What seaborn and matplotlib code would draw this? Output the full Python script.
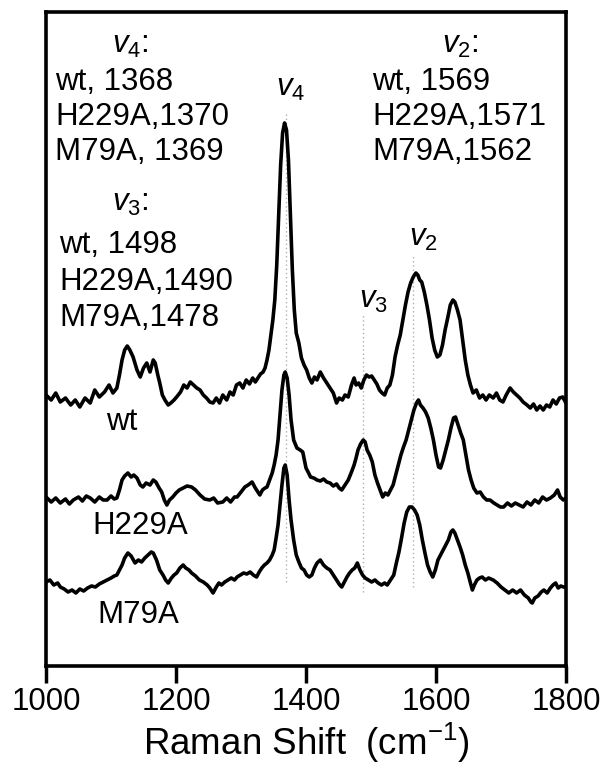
import matplotlib
matplotlib.use("Agg")
import matplotlib.pyplot as plt
import seaborn as sns
import pandas as pd

# ---------------- data ----------------
wt_x = [1000,1008,1015,1022,1030,1038,1045,1052,1060,1068,1075,1082,1090,1097,1103,1109,1113,1117,1121,1125,
        1129,1134,1140,1145,1150,1155,1160,1165,1168,1172,1175,1179,1183,1188,1192,1197,1201,1207,1212,1217,
        1222,1227,1232,1237,1242,1247,1252,1257,1262,1267,1272,1278,1283,1288,1293,1298,1303,1308,1313,1318,
        1322,1326,1330,1334,1337,1340,1343,1346,1349,1352,1355,1358,1361,1364,1367,1370,1373,1376,1379,1382,
        1385,1389,1393,1397,1401,1405,1409,1413,1417,1422,1427,1432,1437,1442,1447,1451,1456,1460,1465,1470,
        1474,1477,1481,1485,1489,1493,1497,1501,1505,1509,1513,1517,1521,1525,1529,1533,1537,1541,1545,1549,
        1553,1557,1561,1565,1569,1572,1575,1578,1582,1586,1590,1594,1598,1602,1606,1610,1614,1618,1622,1626,
        1629,1633,1637,1641,1645,1649,1653,1657,1662,1667,1672,1677,1682,1688,1693,1698,1703,1708,1714,1719,
        1724,1729,1734,1740,1745,1750,1755,1760,1765,1770,1775,1780,1785,1790,1795,1800]
wt_y = [271,266,273,264,268,261,266,259,268,263,276,269,274,281,273,278,291,306,316,320,
        316,309,296,289,298,303,294,306,303,291,283,271,266,261,263,266,269,274,281,278,
        284,281,278,276,271,268,264,263,268,263,271,266,274,271,281,283,278,286,282,288,
        284,288,292,294,298,306,316,331,346,366,401,451,501,533,543,536,506,451,396,356,
        333,323,308,301,296,288,283,289,286,294,288,283,278,273,263,268,266,271,269,281,
        288,281,283,278,286,291,289,290,286,282,276,273,271,278,281,291,309,321,331,346,
        361,374,383,389,393,391,386,384,374,361,346,328,316,309,311,321,336,348,361,366,
        364,356,346,326,306,291,281,273,276,268,271,266,271,268,273,266,264,271,278,274,
        271,268,264,261,258,262,256,260,256,261,259,266,262,268,269,263]

h229a_x = [1000,1008,1015,1022,1030,1036,1042,1050,1056,1062,1068,1075,1082,1088,1094,1100,1105,1109,1113,1117,
           1121,1126,1131,1135,1140,1145,1149,1154,1160,1165,1169,1174,1178,1182,1186,1190,1195,1200,1205,1211,
           1217,1224,1230,1237,1244,1252,1258,1264,1272,1278,1284,1290,1294,1300,1306,1311,1317,1322,1326,1329,
           1333,1337,1340,1344,1348,1351,1354,1357,1360,1363,1366,1368,1371,1374,1377,1381,1386,1391,1395,1400,
           1404,1407,1412,1417,1422,1427,1432,1437,1442,1447,1451,1455,1460,1465,1470,1474,1477,1480,1484,1488,
           1491,1494,1498,1502,1506,1510,1514,1518,1522,1526,1530,1534,1538,1542,1546,1550,1554,1558,1562,1566,
           1570,1573,1576,1580,1584,1588,1592,1596,1600,1604,1607,1611,1615,1619,1623,1627,1630,1634,1638,1642,
           1646,1650,1654,1658,1663,1668,1673,1678,1683,1689,1694,1699,1704,1710,1716,1722,1728,1734,1740,1746,
           1752,1758,1764,1770,1776,1782,1787,1791,1796,1800]
h229a_y = [169,164,168,163,167,162,166,169,165,170,168,164,169,166,166,170,167,168,176,186,
           190,193,189,191,188,181,179,183,181,186,184,178,174,166,161,166,169,173,176,178,
           180,179,176,171,167,166,168,163,164,168,164,169,169,174,179,181,184,178,174,171,
           176,178,179,186,193,201,211,226,251,276,291,294,288,271,246,226,218,216,214,198,
           193,189,188,186,185,187,184,183,180,182,178,176,181,186,194,201,208,216,222,226,
           224,216,211,204,191,183,176,169,173,171,176,181,191,201,211,219,226,236,246,256,
           263,266,261,258,254,248,238,226,211,199,198,206,216,226,238,248,249,241,233,226,
           211,196,186,178,173,174,169,166,166,163,161,159,159,163,160,163,161,159,164,161,
           166,163,169,166,168,171,176,169,166,168]

m79a_x = [1000,1006,1012,1018,1022,1028,1034,1040,1046,1052,1058,1064,1070,1076,1082,1088,1094,1100,1105,1109,
          1113,1117,1121,1126,1131,1137,1142,1147,1152,1157,1162,1165,1170,1175,1180,1184,1188,1193,1197,1201,
          1206,1211,1215,1220,1224,1230,1236,1242,1248,1252,1257,1262,1266,1270,1275,1280,1285,1290,1294,1299,
          1304,1309,1314,1319,1324,1328,1332,1336,1340,1344,1348,1351,1354,1357,1360,1363,1366,1368,1371,1374,
          1377,1381,1385,1389,1393,1397,1401,1405,1409,1413,1417,1422,1427,1432,1437,1442,1447,1452,1455,1459,
          1463,1467,1471,1475,1479,1483,1487,1491,1496,1501,1506,1511,1516,1521,1525,1530,1535,1539,1543,1547,
          1551,1555,1559,1563,1567,1571,1575,1579,1583,1587,1591,1595,1599,1603,1607,1611,1615,1619,1623,1626,
          1629,1633,1637,1641,1645,1649,1653,1656,1659,1663,1667,1671,1676,1681,1688,1694,1700,1706,1712,1718,
          1724,1730,1736,1742,1746,1748,1752,1757,1762,1766,1771,1776,1780,1784,1788,1792,1796,1800]
m79a_y = [84,86,81,83,79,77,74,76,73,77,75,78,80,79,82,84,86,88,90,91,
          96,101,108,113,110,103,106,104,108,111,114,113,106,96,91,86,83,88,91,93,
          98,101,98,96,93,90,86,84,81,78,73,79,83,81,84,86,88,86,89,91,
          93,92,94,91,89,94,98,101,103,106,111,116,128,141,161,181,198,201,191,166,
          146,126,111,104,98,96,91,89,91,98,103,106,101,98,96,91,86,81,79,84,
          89,93,96,98,103,96,91,88,86,84,86,83,81,83,81,86,91,103,114,128,
          143,154,159,159,156,151,141,126,113,101,94,89,96,106,111,116,121,126,134,136,
          133,126,119,111,101,93,83,76,81,86,88,89,86,88,86,83,79,76,73,76,
          73,76,71,68,64,63,68,70,74,76,73,78,81,83,78,80,79,79]

samples = ["wt", "H229A", "M79A"]
mode_pos = [1369, 1488, 1564]
mode_line_lo = [84, 74, 79]
mode_line_hi = [553, 353, 411]

xticks = [1000, 1200, 1400, 1600, 1800]

# ---------------- styling ----------------
sns.set_theme(style="white")
plt.rcParams["font.family"] = ["Liberation Sans", "DejaVu Sans"]
plt.rcParams["mathtext.fontset"] = "custom"
plt.rcParams["mathtext.rm"] = "Liberation Sans"
plt.rcParams["mathtext.it"] = "Liberation Sans:italic"
plt.rcParams["mathtext.bf"] = "Liberation Sans:bold"
plt.rcParams["text.color"] = "black"
plt.rcParams["axes.labelcolor"] = "black"
plt.rcParams["xtick.color"] = "black"

fig = plt.figure(figsize=(6.06, 7.79), dpi=100)
ax = fig.add_axes([46/606, 113/779, 520/606, 654/779])

frames = []
for name, xs, ys in [("wt", wt_x, wt_y), ("H229A", h229a_x, h229a_y), ("M79A", m79a_x, m79a_y)]:
    frames.append(pd.DataFrame({"shift": xs, "intensity": ys, "sample": name}))
df = pd.concat(frames, ignore_index=True)

sns.lineplot(data=df, x="shift", y="intensity", hue="sample", units="sample",
             estimator=None, sort=False, palette=["black"] * 3, linewidth=2.6,
             legend=False, ax=ax)

# dotted guide lines at the modes
for pos, lo, hi in zip(mode_pos, mode_line_lo, mode_line_hi):
    ax.vlines(pos, lo, hi, colors="#b0b0b0", linestyles=(0, (1, 2)), linewidth=1.0, zorder=1)

ax.set_xlim(1000, 1800)
ax.set_ylim(0, 654)
ax.set_xticks(xticks)
ax.set_xticklabels([str(t) for t in xticks])
ax.set_yticks([])
ax.set_xlabel(r"Raman Shift  (cm$^{\mathregular{-1}}$)", fontsize=26.5, labelpad=3, color="black")
ax.set_ylabel("")
ax.tick_params(axis="x", direction="out", length=12, width=2.5, labelsize=22.5,
               bottom=True, top=False, pad=3, color="black", labelcolor="black")
for sp in ax.spines.values():
    sp.set_visible(True)
    sp.set_color("black")
    sp.set_linewidth(2.6)


def px(xp):
    return 1000 + (xp - 46) / 0.65


def py(yp):
    return 666 - yp


fs = 22.5
tkw = dict(fontsize=fs, color="black", va="center")
# left annotation block
ax.text(px(130), py(45), r"$v_{\mathit{4}}$:", ha="center", **tkw)
ax.text(px(55), py(82), "wt, 1368", ha="left", **tkw)
ax.text(px(55), py(117), "H229A,1370", ha="left", **tkw)
ax.text(px(55), py(152), "M79A, 1369", ha="left", **tkw)
ax.text(px(130), py(203), r"$v_{\mathit{3}}$:", ha="center", **tkw)
ax.text(px(59), py(245), "wt, 1498", ha="left", **tkw)
ax.text(px(59), py(282), "H229A,1490", ha="left", **tkw)
ax.text(px(59), py(318), "M79A,1478", ha="left", **tkw)

# right annotation block
ax.text(px(460), py(45), r"$v_{\mathit{2}}$:", ha="center", **tkw)
ax.text(px(372), py(82), "wt, 1569", ha="left", **tkw)
ax.text(px(372), py(117), "H229A,1571", ha="left", **tkw)
ax.text(px(372), py(152), "M79A,1562", ha="left", **tkw)

# mode labels
ax.text(px(291), py(88), r"$v_{\mathit{4}}$", ha="center", **tkw)
ax.text(px(373), py(300), r"$v_{\mathit{3}}$", ha="center", **tkw)
ax.text(px(423), py(238), r"$v_{\mathit{2}}$", ha="center", **tkw)

# sample labels
ax.text(px(122), py(422), samples[0], ha="center", **tkw)
ax.text(px(140), py(526), samples[1], ha="center", **tkw)
ax.text(px(138), py(615), samples[2], ha="center", **tkw)

fig.savefig("out.png", dpi=100)
